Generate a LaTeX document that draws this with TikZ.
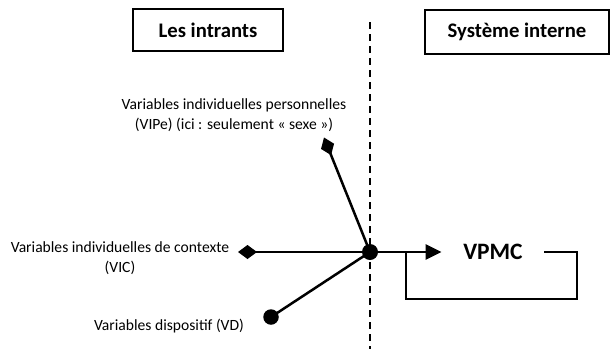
\documentclass[tikz,border=0pt]{standalone}
\usepackage{fontspec}
\setmainfont{Carlito}
\usetikzlibrary{arrows.meta}
\begin{document}
\begin{tikzpicture}[x=1pt,y=-1pt,
  titlebox/.style={draw,line width=1.4pt,minimum width=150pt,minimum height=42pt,inner sep=0pt,font=\fontsize{20.7}{25}\selectfont\bfseries},
  lbl/.style={align=center,inner sep=0pt,font=\fontsize{15.6}{20}\selectfont},
  link/.style={line width=2.5pt},
  dot/.style={circle,fill=black,inner sep=0pt},
  dtip/.style={{Diamond[length=19pt,width=14pt]}-},
  sep/.style={line width=1.4pt,dash pattern=on 7pt off 5pt}]
\useasboundingbox (0,0) rectangle (613,349);
% titles
\node[titlebox,minimum width=150pt,minimum height=42pt] (intr) at (208,30) {Les intrants};
\node[titlebox,minimum width=184pt,minimum height=44pt] (sys) at (517,32) {Système interne};
% separator
\coordinate (septop) at (370,22);
\coordinate (sepbot) at (370,349);
\draw[sep] (septop) -- (sepbot);
% labels
\node[lbl] (tvipe) at (234,115) {Variables individuelles personnelles\\(VIPe) (ici : seulement « sexe »)};
\node[lbl] (tvic) at (120,258) {Variables individuelles de contexte\\(VIC)};
\node[lbl] (tvd) at (169,326) {Variables dispositif (VD)};
% central junction and ends
\coordinate (c) at (370,252);
\coordinate (vipe) at (324.0,137.5);
\coordinate (vic) at (238,252);
\node[dot,minimum size=15.5pt] (vd) at (271,317) {};
\node[font=\fontsize{23.5}{28}\selectfont\bfseries,inner xsep=21.5pt,inner ysep=0pt] (vpmc) at (493,252) {VPMC};
\draw[link,dtip] (vipe) -- (c);
\draw[link,dtip] (vic) -- (c);
\draw[link] (vd.center) -- (c);
\draw[link,-{Triangle[length=16pt,width=15pt]}] (c) -- (vpmc.west);
% feedback loop
\coordinate (lr) at (577,299);
\coordinate (fb) at (406,252);
\draw[line width=1.5pt] (vpmc.east) -| (lr) -| (fb);
\node[dot,minimum size=16pt] (cdot) at (c) {};
\end{tikzpicture}
\end{document}
